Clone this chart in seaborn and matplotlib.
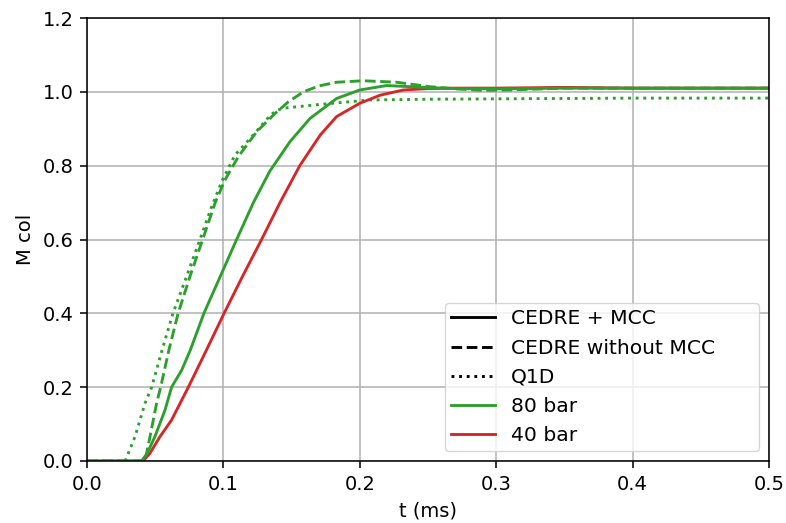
import matplotlib
matplotlib.use("Agg")
import matplotlib.pyplot as plt
import seaborn as sns
import pandas as pd
from matplotlib.lines import Line2D

# ---- data ----
t_80_mcc = [0, 0.040, 0.044, 0.0498, 0.0572, 0.062, 0.0694, 0.0757, 0.0857, 0.0977, 0.1097,
            0.122, 0.134, 0.1488, 0.1635, 0.183, 0.2, 0.2197, 0.237, 0.251, 0.27,
            0.3, 0.35, 0.4, 0.45, 0.5]
m_80_mcc = [0, 0, 0.02, 0.066, 0.138, 0.2, 0.246, 0.30, 0.40, 0.50, 0.60,
            0.70, 0.785, 0.865, 0.928, 0.982, 1.005, 1.017, 1.014, 1.011, 1.009,
            1.008, 1.01, 1.01, 1.01, 1.01]

t_40_mcc = [0, 0.041, 0.046, 0.0535, 0.062, 0.0743, 0.0875, 0.1005, 0.114, 0.128,
            0.1415, 0.156, 0.171, 0.183, 0.2, 0.215, 0.232, 0.251, 0.27, 0.3, 0.35,
            0.4, 0.45, 0.5]
m_40_mcc = [0, 0, 0.02, 0.066, 0.111, 0.2, 0.3, 0.4, 0.5, 0.6,
            0.7, 0.8, 0.883, 0.933, 0.969, 0.991, 1.005, 1.009, 1.01, 1.01, 1.012,
            1.01, 1.01, 1.01]

t_80_nomcc = [0, 0.0425, 0.0462, 0.051, 0.054, 0.060, 0.0668, 0.0755, 0.0848, 0.094, 0.101,
              0.111, 0.1244, 0.1366, 0.1476, 0.1587, 0.17, 0.183, 0.2025, 0.227, 0.251,
              0.27, 0.29, 0.31, 0.35, 0.4, 0.45, 0.5]
m_80_nomcc = [0, 0, 0.066, 0.156, 0.2, 0.3, 0.4, 0.5, 0.6, 0.7, 0.76,
              0.825, 0.892, 0.937, 0.973, 1.0, 1.016, 1.026, 1.030, 1.026, 1.014,
              1.008, 1.004, 1.005, 1.01, 1.01, 1.01, 1.01]

t_80_q1d = [0, 0.028, 0.0352, 0.0425, 0.0474, 0.055, 0.063, 0.073, 0.0828, 0.091,
            0.0988, 0.1085, 0.1207, 0.134, 0.139, 0.145, 0.155, 0.171, 0.2075, 0.251,
            0.3, 0.35, 0.4, 0.45, 0.5]
m_80_q1d = [0, 0, 0.066, 0.156, 0.2, 0.3, 0.4, 0.5, 0.6, 0.685,
            0.757, 0.829, 0.878, 0.935, 0.95, 0.956, 0.96, 0.966, 0.978, 0.98,
            0.981, 0.982, 0.983, 0.983, 0.983]

legend_labels = ["CEDRE + MCC", "CEDRE without MCC", "Q1D", "80 bar", "40 bar"]
x_ticks = [0.0, 0.1, 0.2, 0.3, 0.4, 0.5]
y_ticks = [0.0, 0.2, 0.4, 0.6, 0.8, 1.0, 1.2]

# ---- plot ----
S = 1.4  # scale of the original rendering
plt.rcParams["font.family"] = ["DejaVu Sans"]
plt.rcParams["font.size"] = 10 * S
plt.rcParams["axes.linewidth"] = 0.8 * S
plt.rcParams["xtick.major.width"] = 0.8 * S
plt.rcParams["ytick.major.width"] = 0.8 * S
plt.rcParams["xtick.major.size"] = 3.5 * S
plt.rcParams["ytick.major.size"] = 3.5 * S
plt.rcParams["xtick.major.pad"] = 3.5 * S
plt.rcParams["ytick.major.pad"] = 3.5 * S
plt.rcParams["axes.labelpad"] = 4.0 * S

GREEN = "#2ca02c"
RED = "#d62728"
LW = 1.5 * 1.38

fig = plt.figure(figsize=(7.86, 5.23), dpi=100)
ax = fig.add_axes([87 / 786, 1 - 461 / 523, (769 - 87) / 786, (461 - 18) / 523])

curves = [
    (t_80_q1d, m_80_q1d, GREEN, ":"),
    (t_80_nomcc, m_80_nomcc, GREEN, "--"),
    (t_40_mcc, m_40_mcc, RED, "-"),
    (t_80_mcc, m_80_mcc, GREEN, "-"),
]
for t, m, c, ls in curves:
    df = pd.DataFrame({"t": t, "M": m})
    sns.lineplot(data=df, x="t", y="M", color=c, linestyle=ls, linewidth=LW,
                 estimator=None, sort=False, ax=ax)

ax.set_xlim(0, 0.5)
ax.set_ylim(0, 1.2)
ax.set_xticks(x_ticks)
ax.set_yticks(y_ticks)
ax.set_xticklabels([f"{v:.1f}" for v in x_ticks])
ax.set_yticklabels([f"{v:.1f}" for v in y_ticks])
ax.grid(True, color="#b0b0b0", linewidth=0.8 * 1.38)
ax.set_axisbelow(True)
ax.set_xlabel("t (ms)")
ax.set_ylabel("M col")

handles = [
    Line2D([0], [0], color="black", linestyle="-", linewidth=LW),
    Line2D([0], [0], color="black", linestyle="--", linewidth=LW),
    Line2D([0], [0], color="black", linestyle=":", linewidth=LW),
    Line2D([0], [0], color=GREEN, linestyle="-", linewidth=LW),
    Line2D([0], [0], color=RED, linestyle="-", linewidth=LW),
]
x0 = (445 - 87) / 682
x1 = (759 - 87) / 682
y0 = (461 - 451) / 443
ax.legend(handles, legend_labels, loc="lower left", fontsize=10.4 * S,
          bbox_to_anchor=(x0, y0, x1 - x0, 0.3), mode="expand",
          borderaxespad=0, borderpad=0.3, handlelength=2.15)

fig.savefig("out.png", dpi=100)
